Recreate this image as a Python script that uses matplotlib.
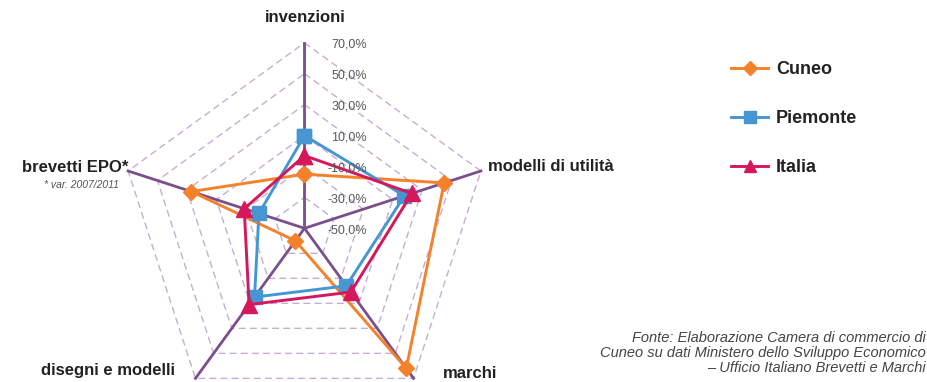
import numpy as np
import matplotlib.pyplot as plt
from matplotlib import font_manager

categories = ["invenzioni", "modelli di utilità", "marchi", "disegni e modelli", "brevetti EPO*"]
cuneo = [-15, 45, 62, -40, 27]
piemonte = [10, 18, -4, 5, -19]
italia = [-3, 23, 1, 11, -9]
levels = [-50, -30, -10, 10, 30, 50, 70]
tick_labels = ["-50,0%", "-30,0%", "-10,0%", "10,0%", "30,0%", "50,0%", "70,0%"]
series_names = ["Cuneo", "Piemonte", "Italia"]

W, H = 928, 382
names = {f.name for f in font_manager.fontManager.ttflist}
narrow = "Liberation Sans Narrow" if "Liberation Sans Narrow" in names else "Liberation Sans"
plt.rcParams['font.family'] = ['Liberation Sans', 'DejaVu Sans']

def px(x, y):
    return x / W, 1 - y / H

fig = plt.figure(figsize=(W / 100, H / 100), dpi=100)
cx, cy, rad = 304.5, 228.3, 185.5
ax = fig.add_axes([(cx - rad) / W, 1 - (cy + rad) / H, 2 * rad / W, 2 * rad / H], projection='polar')
ax.set_theta_offset(np.pi / 2)
ax.set_theta_direction(-1)
ax.set_ylim(levels[0], levels[-1])
ax.axis('off')

n = len(categories)
angles = np.linspace(0, 2 * np.pi, n, endpoint=False)
closed = np.append(angles, angles[0])

# pentagon grid
for lv in levels[1:]:
    ax.plot(closed, [lv] * (n + 1), color='#C5AED5', lw=1, ls=(0, (5, 3)), clip_on=False, zorder=1)
# radial axes
for a in angles:
    ax.plot([a, a], [levels[0], levels[-1]], color='#7B4E8C', lw=2, clip_on=False, zorder=2)

styles = [('#F5822A', 'D', 8.5), ('#4596D2', 's', 10), ('#D6175C', '^', 11)]
for vals, name, (col, mk, ms) in zip([cuneo, piemonte, italia], series_names, styles):
    v = np.append(vals, vals[0])
    ax.plot(closed, v, color=col, lw=2.1, marker=mk, ms=ms, label=name, clip_on=False, zorder=3)

for lv, lab in zip(levels, tick_labels):
    ax.annotate(lab, xy=(0, lv), xytext=(45, -1.5), textcoords='offset points',
                ha='right', va='center', fontsize=9, color='#595959', family=narrow)

bold = dict(fontsize=12, fontweight='bold', color='#222222')
fig.text(*px(305, 18), categories[0], ha='center', va='center', **bold)
fig.text(*px(488, 166), categories[1], ha='left', va='center', **bold)
fig.text(*px(443, 373), categories[2], ha='left', va='center', **bold)
fig.text(*px(175, 370), categories[3], ha='right', va='center', **bold)
fig.text(*px(128, 168), categories[4], ha='right', va='center', **bold)
fig.text(*px(119, 185), "* var. 2007/2011", ha='right', va='center', fontsize=7.5,
         style='italic', color='#555555')

leg = ax.legend(loc='upper left', bbox_to_anchor=px(731, 61), bbox_transform=fig.transFigure,
                frameon=False, fontsize=13, handlelength=2.05, handletextpad=0.45,
                labelspacing=1.78, borderpad=0, borderaxespad=0, markerscale=0.85)
for t in leg.get_texts():
    t.set_fontweight('bold')
    t.set_color('#222222')

fig.text(*px(926, 353), "Fonte: Elaborazione Camera di commercio di\n"
         "Cuneo su dati Ministero dello Sviluppo Economico\n"
         "– Ufficio Italiano Brevetti e Marchi",
         ha='right', va='center', fontsize=10.5, style='italic', color='#444444',
         linespacing=1.07, multialignment='right')

fig.savefig("out.png", dpi=100)
